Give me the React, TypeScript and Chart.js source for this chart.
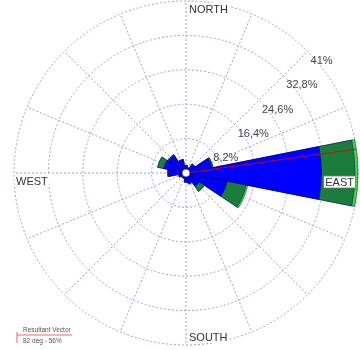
import React, { useEffect, useRef } from 'react';
import { Chart, registerables } from 'chart.js';

Chart.register(...registerables);

// ---- data ----
const DIRECTIONS = ['N', 'NNE', 'NE', 'ENE', 'E', 'ESE', 'SE', 'SSE', 'S', 'SSW', 'SW', 'WSW', 'W', 'WNW', 'NW', 'NNW'];
const SPEED_LOW = [1.8, 1.3, 2.6, 6.3, 32.3, 10.0, 3.8, 2.5, 2.2, 1.4, 1.3, 1.8, 4.2, 5.4, 5.0, 3.3];
const SPEED_MID = [0, 0, 0, 0.3, 8.0, 4.6, 1.5, 0.2, 0, 0, 0, 0, 0.2, 1.5, 0.3, 0];
const SPEED_HIGH = [0, 0, 0, 0, 0.7, 0.4, 0, 0, 0, 0, 0, 0, 0, 0, 0, 0];
const RING_VALUES = [8.2, 16.4, 24.6, 32.8, 41];
const RING_LABELS = ['8,2%', '16,4%', '24,6%', '32,8%', '41%'];
const COMPASS_LABELS = ['NORTH', 'EAST', 'SOUTH', 'WEST'];
const COMPASS_INDEX = [0, 4, 8, 12];
const RESULTANT_DIR = 82;
const RESULTANT_PCT = 56;
const LEGEND_TITLE = 'Resultant Vector';
const LEGEND_TEXT = '82 deg - 56%';

const GRID_COLOR = '#a0a0d4';
const FONT = '"Liberation Sans", Arial, sans-serif';

const cumulate = (...arrs: number[][]) =>
  arrs[0].map((_, i) => arrs.reduce((s, a) => s + a[i], 0));

const overlay = {
  id: 'roseOverlay',
  afterDatasetsDraw(chart: any) {
    const s = chart.scales.r;
    const s2 = chart.scales.r2;
    const ctx = chart.ctx as CanvasRenderingContext2D;
    const cx = s.xCenter;
    const cy = s.yCenter;
    const R = s.drawingArea;
    ctx.save();
    ctx.setLineDash([]);

    // resultant vector
    const a = ((RESULTANT_DIR - 90) * Math.PI) / 180;
    const rr = Math.min(s.getDistanceFromCenterForValue(RESULTANT_PCT), R);
    ctx.strokeStyle = 'rgba(225,0,0,0.85)';
    ctx.lineWidth = 1;
    ctx.beginPath();
    ctx.moveTo(cx, cy);
    ctx.lineTo(cx + rr * Math.cos(a), cy + rr * Math.sin(a));
    ctx.stroke();

    // calm circle
    ctx.beginPath();
    ctx.arc(cx, cy, 4, 0, Math.PI * 2);
    ctx.fillStyle = '#ffffff';
    ctx.fill();
    ctx.strokeStyle = '#00006a';
    ctx.lineWidth = 0.6;
    ctx.stroke();

    // ring labels
    ctx.font = `11px ${FONT}`;
    ctx.fillStyle = '#444444';
    ctx.textAlign = 'left';
    ctx.textBaseline = 'top';
    RING_VALUES.forEach((v, i) => {
      const d = s.getDistanceFromCenterForValue(v);
      ctx.fillText(RING_LABELS[i], cx + d * Math.SQRT1_2 + 3, cy - d * Math.SQRT1_2 + 4);
    });

    // compass labels
    ctx.textBaseline = 'alphabetic';
    COMPASS_LABELS.forEach((lab, i) => {
      const p = s2.getPointPosition(COMPASS_INDEX[i], s2.drawingArea);
      const w = ctx.measureText(lab).width;
      let x = p.x;
      let y = p.y;
      if (i === 0) { x += 3; y += 12; }
      else if (i === 1) { x -= 4 + w; y += 13; }
      else if (i === 2) { x += 3; y -= 4; }
      else { x += 2; y += 12; }
      ctx.fillStyle = '#ffffff';
      ctx.fillRect(x - 1.5, y - 10, w + 3, 12);
      if (i === 1) {
        ctx.strokeStyle = '#777777';
        ctx.lineWidth = 0.8;
        ctx.strokeRect(x - 1.5, y - 10, w + 3, 12);
      }
      ctx.fillStyle = '#333333';
      ctx.textAlign = 'left';
      ctx.fillText(lab, x, y);
    });

    // legend
    ctx.font = `6.5px ${FONT}`;
    ctx.fillStyle = '#555555';
    ctx.textBaseline = 'alphabetic';
    ctx.fillText(LEGEND_TITLE, 23, 332);
    ctx.fillText(LEGEND_TEXT, 23, 342.5);
    ctx.strokeStyle = 'rgba(225,0,0,0.75)';
    ctx.lineWidth = 0.8;
    ctx.beginPath();
    ctx.moveTo(17, 335);
    ctx.lineTo(72, 335);
    ctx.moveTo(17, 332);
    ctx.lineTo(17, 343);
    ctx.stroke();

    ctx.restore();
  },
};

export default function App() {
  const ref = useRef<HTMLCanvasElement>(null);

  useEffect(() => {
    if (!ref.current) return;
    const c1 = SPEED_LOW;
    const c2 = cumulate(SPEED_LOW, SPEED_MID);
    const c3 = cumulate(SPEED_LOW, SPEED_MID, SPEED_HIGH);
    const border = 'rgba(0,0,90,0.8)';
    const chart = new Chart(ref.current, {
      type: 'polarArea',
      data: {
        labels: DIRECTIONS,
        datasets: [
          { data: c1, backgroundColor: '#0000ff', borderColor: border, borderWidth: 0.6, rAxisID: 'r' },
          { data: c2, backgroundColor: '#1b7d3c', borderColor: border, borderWidth: 0.6, rAxisID: 'r' },
          { data: c3, backgroundColor: '#33e633', borderColor: border, borderWidth: 0.6, rAxisID: 'r' },
        ] as any,
      },
      options: {
        animation: false,
        responsive: false,
        events: [],
        layout: { padding: { left: 14, right: 2, top: 1, bottom: 5 } },
        plugins: { legend: { display: false }, tooltip: { enabled: false } },
        scales: {
          r: {
            type: 'radialLinear',
            min: 0,
            max: 41,
            startAngle: -11.25,
            ticks: { display: false, stepSize: 8.2 },
            grid: { display: true, circular: true, color: GRID_COLOR, lineWidth: 1 },
            border: { dash: [2, 2] },
            angleLines: { display: false },
            pointLabels: { display: false },
          },
          r2: {
            type: 'radialLinear',
            min: 0,
            max: 1,
            startAngle: 0,
            ticks: { display: false },
            grid: { display: false },
            pointLabels: { display: false },
            angleLines: { display: true, color: GRID_COLOR, lineWidth: 1, borderDash: [2, 2] },
          },
        } as any,
      },
      plugins: [overlay],
    });
    return () => chart.destroy();
  }, []);

  return (
    <div style={{ position: 'fixed', left: 0, top: 0, width: 360, height: 350, background: '#fff' }}>
      <canvas ref={ref} width={360} height={350} style={{ display: 'block' }} />
    </div>
  );
}
